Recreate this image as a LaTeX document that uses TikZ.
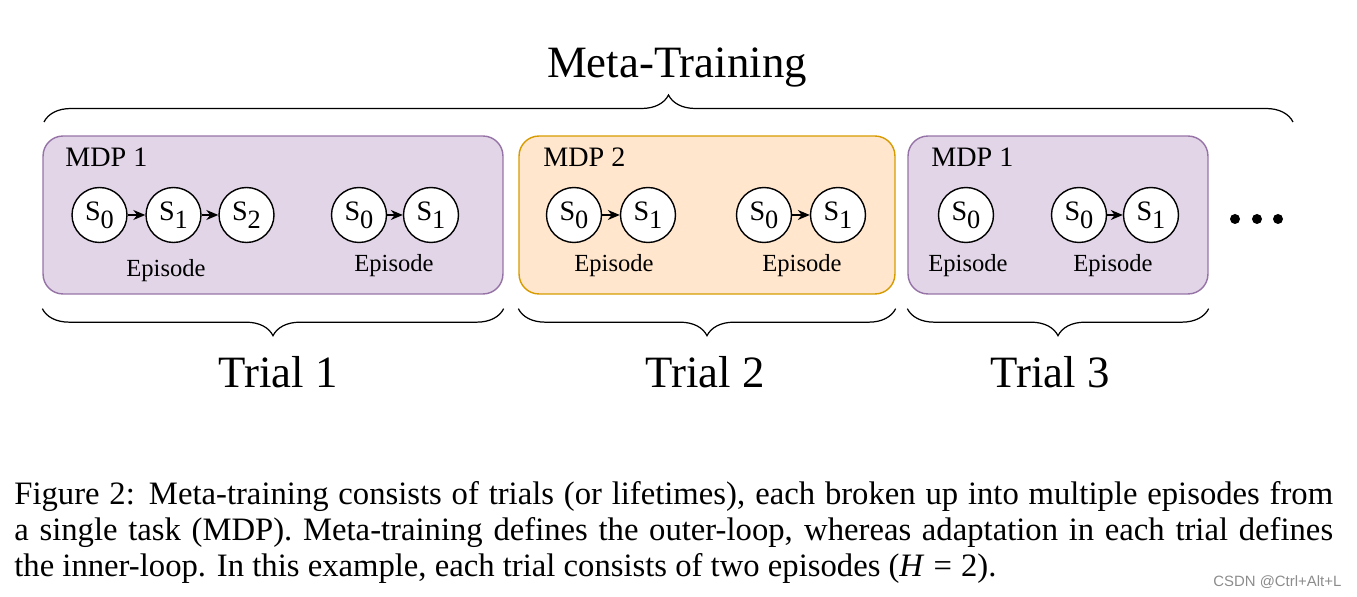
\documentclass[tikz,border=0pt]{standalone}
\usepackage{fontspec}
\setmainfont{Liberation Serif}
\newfontfamily\marksans{Liberation Sans}
\usetikzlibrary{arrows.meta,decorations.pathreplacing}
\definecolor{P}{HTML}{E1D5E7}
\definecolor{PD}{HTML}{9673A6}
\definecolor{O}{HTML}{FFE6CC}
\definecolor{OD}{HTML}{D79B00}

\tikzset{
  mdpbox/.style={rectangle, rounded corners=0.4cm, line width=0.8pt, minimum height=3.16cm, inner sep=0pt},
  mdplabel/.style={anchor=base west, inner sep=0pt, font=\fontsize{16}{16}\selectfont},
  state/.style={circle, draw, line width=0.8pt, fill=white, minimum size=1.1cm, inner sep=0pt, font=\fontsize{16}{16}\selectfont},
  eplabel/.style={anchor=base, inner sep=0pt, font=\fontsize{14}{14}\selectfont},
  biglabel/.style={anchor=base, inner sep=0pt, font=\fontsize{25.5}{26}\selectfont},
  arr/.style={-{Stealth[length=2.4mm,width=2mm]}, line width=0.8pt},
  bracket/.style={decorate, decoration={brace, amplitude=0.54cm}, line width=0.7pt},
  captionline/.style={anchor=base west, inner sep=0pt, font=\fontsize{18.6}{20}\selectfont}
}
\newcommand{\st}[1]{S\raisebox{-4.5pt}{\fontsize{15}{15}\selectfont #1}}

\begin{document}
\begin{tikzpicture}[x=0.02cm, y=-0.02cm]
  \useasboundingbox (0,0) rectangle (1357,597);

  % Kaesten der drei Trials
  \node[mdpbox, draw=PD, fill=P, minimum width=9.2cm] (box1) at (273,215) {};
  \node[mdpbox, draw=OD, fill=O, minimum width=7.52cm] (box2) at (707,215) {};
  \node[mdpbox, draw=PD, fill=P, minimum width=6.0cm] (box3) at (1058,215) {};

  \node[mdplabel] (m1) at (65,167) {MDP 1};
  \node[mdplabel] (m2) at (543,167) {MDP 2};
  \node[mdplabel] (m3) at (931,167) {MDP 1};

  % Trial 1
  \node[state] (a0) at (99.5,215) {\st{0}};
  \node[state] (a1) at (173.5,215) {\st{1}};
  \node[state] (a2) at (246.5,215) {\st{2}};
  \node[eplabel] (e1) at (166,277) {Episode};
  \draw[arr] (a0) -- (a1);
  \draw[arr] (a1) -- (a2);

  \node[state] (b0) at (359,215) {\st{0}};
  \node[state] (b1) at (431,215) {\st{1}};
  \node[eplabel] (e2) at (394,272) {Episode};
  \draw[arr] (b0) -- (b1);

  % Trial 2
  \node[state] (c0) at (574,215) {\st{0}};
  \node[state] (c1) at (648,215) {\st{1}};
  \node[eplabel] (e3) at (614,272) {Episode};
  \draw[arr] (c0) -- (c1);

  \node[state] (d0) at (764,215) {\st{0}};
  \node[state] (d1) at (838,215) {\st{1}};
  \node[eplabel] (e4) at (802,272) {Episode};
  \draw[arr] (d0) -- (d1);

  % Trial 3
  \node[state] (f0) at (966,215) {\st{0}};
  \node[eplabel] (e5) at (968,272) {Episode};

  \node[state] (g0) at (1079,215) {\st{0}};
  \node[state] (g1) at (1151,215) {\st{1}};
  \node[eplabel] (e6) at (1113,272) {Episode};
  \draw[arr] (g0) -- (g1);

  % Punkte
  \foreach \x in {1235,1257,1278}
    \fill (\x,219) circle (5);

  % Klammern
  \coordinate (tl) at (44,122);
  \coordinate (tr) at (1293,122);
  \draw[bracket] (tl) -- (tr);
  \node[biglabel] (meta) at (677,78) {Meta-Training};

  \draw[bracket] ([yshift=-0.28cm]box1.south east) -- ([yshift=-0.28cm]box1.south west);
  \draw[bracket] ([yshift=-0.28cm]box2.south east) -- ([yshift=-0.28cm]box2.south west);
  \draw[bracket] ([yshift=-0.28cm]box3.south east) -- ([yshift=-0.28cm]box3.south west);

  \node[biglabel] (t1) at (278,388) {Trial 1};
  \node[biglabel] (t2) at (705,388) {Trial 2};
  \node[biglabel] (t3) at (1050,388) {Trial 3};

  % Bildunterschrift
  \node[captionline] (cap1) at (14,505) {\makebox[26.38cm][s]{Figure 2: Meta-training consists of trials (or lifetimes), each broken up into multiple episodes from}};
  \node[captionline] (cap2) at (14,541) {\makebox[26.38cm][s]{a single task (MDP). Meta-training defines the outer-loop, whereas adaptation in each trial defines}};
  \node[captionline] (cap3) at (14,577) {the inner-loop. In this example, each trial consists of two episodes (\textit{H}\;=\;2).};

  \node[anchor=base west, inner sep=0pt, text=black!45, font=\marksans\fontsize{8.5}{9}\selectfont] (mark) at (1213,587) {CSDN @Ctrl+Alt+L};
\end{tikzpicture}
\end{document}
